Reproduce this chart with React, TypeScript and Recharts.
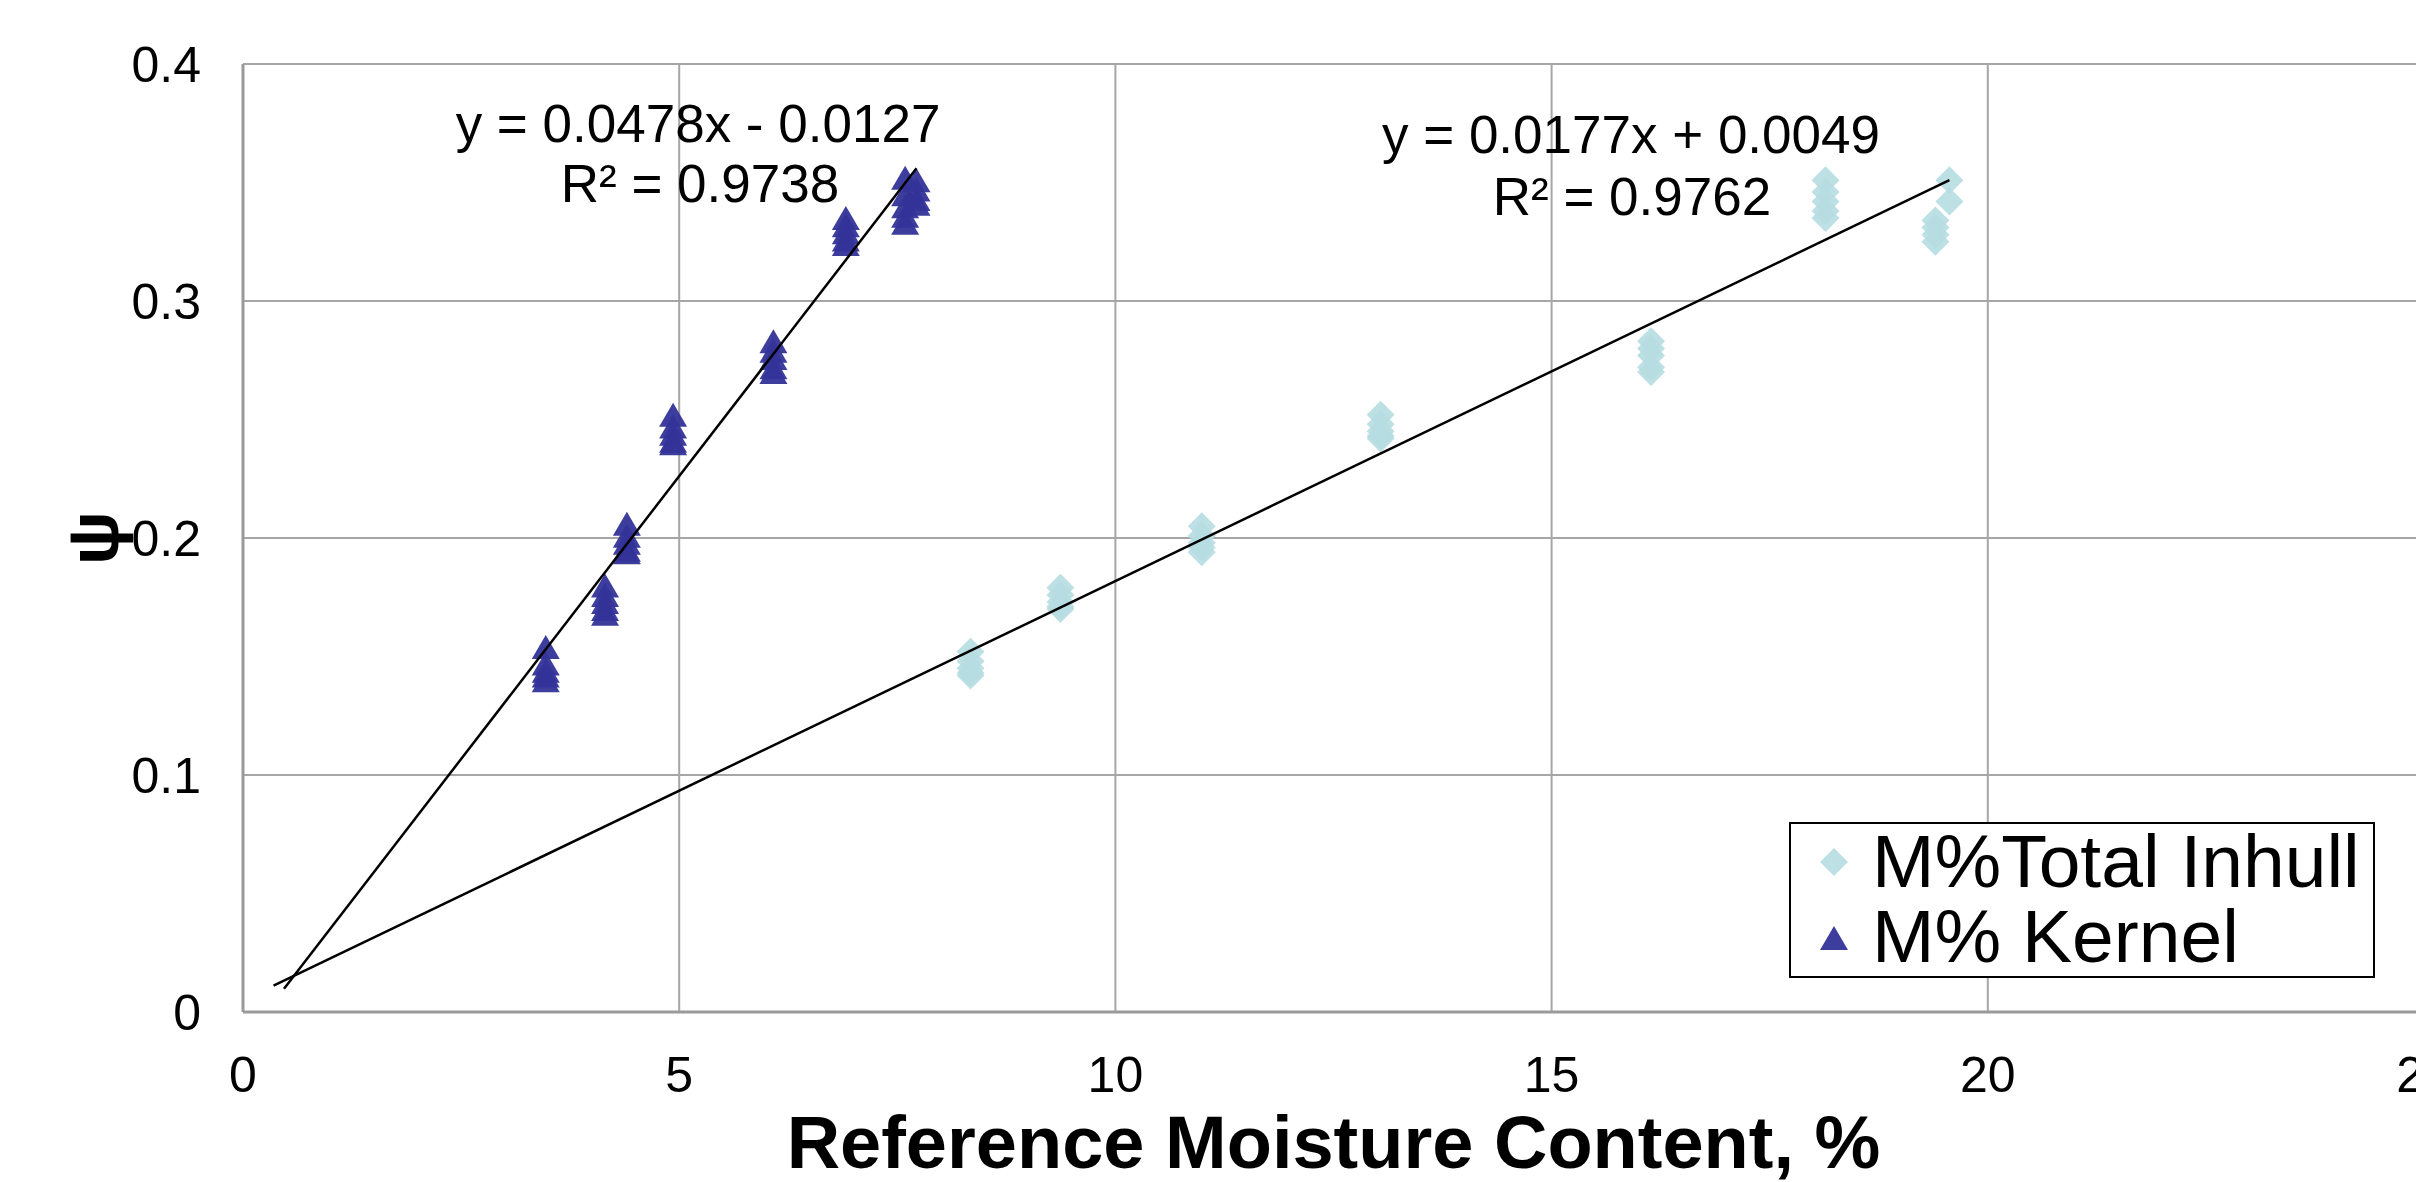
import React from "react";
import { ScatterChart, Scatter, XAxis, YAxis, CartesianGrid, Label } from "recharts";

// M% Kernel (triangles)
const kernelPoints = [
  { x: 3.47, y: 0.154 }, { x: 3.47, y: 0.147 }, { x: 3.47, y: 0.144 }, { x: 3.47, y: 0.142 }, { x: 3.47, y: 0.140 },
  { x: 4.15, y: 0.180 }, { x: 4.15, y: 0.176 }, { x: 4.15, y: 0.173 }, { x: 4.15, y: 0.170 }, { x: 4.15, y: 0.168 },
  { x: 4.40, y: 0.206 }, { x: 4.40, y: 0.201 }, { x: 4.40, y: 0.198 }, { x: 4.40, y: 0.195 }, { x: 4.40, y: 0.194 },
  { x: 4.93, y: 0.252 }, { x: 4.93, y: 0.247 }, { x: 4.93, y: 0.244 }, { x: 4.93, y: 0.241 }, { x: 4.93, y: 0.240 },
  { x: 6.08, y: 0.283 }, { x: 6.08, y: 0.279 }, { x: 6.08, y: 0.276 }, { x: 6.08, y: 0.272 }, { x: 6.08, y: 0.270 },
  { x: 6.91, y: 0.335 }, { x: 6.91, y: 0.332 }, { x: 6.91, y: 0.329 }, { x: 6.91, y: 0.326 }, { x: 6.91, y: 0.324 },
  { x: 7.59, y: 0.352 }, { x: 7.59, y: 0.345 }, { x: 7.59, y: 0.340 }, { x: 7.59, y: 0.336 }, { x: 7.59, y: 0.333 },
  { x: 7.72, y: 0.351 }, { x: 7.72, y: 0.347 }, { x: 7.72, y: 0.343 }, { x: 7.72, y: 0.341 },
];

// M%Total Inhull (diamonds)
const inhullPoints = [
  { x: 8.34, y: 0.152 }, { x: 8.34, y: 0.148 }, { x: 8.34, y: 0.145 }, { x: 8.34, y: 0.143 }, { x: 8.34, y: 0.142 },
  { x: 9.37, y: 0.179 }, { x: 9.37, y: 0.176 }, { x: 9.37, y: 0.173 }, { x: 9.37, y: 0.171 }, { x: 9.37, y: 0.170 },
  { x: 10.99, y: 0.205 }, { x: 10.99, y: 0.201 }, { x: 10.99, y: 0.198 }, { x: 10.99, y: 0.196 }, { x: 10.99, y: 0.194 },
  { x: 13.04, y: 0.252 }, { x: 13.04, y: 0.248 }, { x: 13.04, y: 0.245 }, { x: 13.04, y: 0.243 }, { x: 13.04, y: 0.242 },
  { x: 16.14, y: 0.283 }, { x: 16.14, y: 0.280 }, { x: 16.14, y: 0.277 }, { x: 16.14, y: 0.272 }, { x: 16.14, y: 0.270 },
  { x: 18.14, y: 0.351 }, { x: 18.14, y: 0.346 }, { x: 18.14, y: 0.342 }, { x: 18.14, y: 0.338 }, { x: 18.14, y: 0.335 },
  { x: 19.40, y: 0.334 }, { x: 19.40, y: 0.331 }, { x: 19.40, y: 0.328 }, { x: 19.40, y: 0.325 },
  { x: 19.56, y: 0.351 }, { x: 19.56, y: 0.342 },
];

// linear trendlines, end points
const kernelTrend = [{ x: 0.47, y: 0.0098 }, { x: 7.72, y: 0.356 }];
const inhullTrend = [{ x: 0.35, y: 0.0111 }, { x: 19.56, y: 0.351 }];

const xTicks = [0, 5, 10, 15, 20, 25];
const yTicks = [0, 0.1, 0.2, 0.3, 0.4];

const kernelEq = ["y = 0.0478x - 0.0127", "R² = 0.9738"];
const inhullEq = ["y = 0.0177x + 0.0049", "R² = 0.9762"];

const KERNEL = "#333399";
const INHULL = "#b6dde1";
const FONT = "'Liberation Sans', Arial, sans-serif";

const Diamond = (p: any) => {
  const { cx, cy } = p;
  return <polygon points={`${cx},${cy - 14} ${cx + 14},${cy} ${cx},${cy + 14} ${cx - 14},${cy}`} fill={INHULL} fillOpacity={0.9} />;
};

const Triangle = (p: any) => {
  const { cx, cy } = p;
  return <polygon points={`${cx},${cy - 12} ${cx + 14},${cy + 12} ${cx - 14},${cy + 12}`} fill={KERNEL} fillOpacity={0.95} />;
};

const NoDot = () => <g />;

const legendItems = [
  { name: "M%Total Inhull", shape: Diamond },
  { name: "M% Kernel", shape: Triangle },
];

export default function App() {
  const tick = { fill: "#000", fontSize: 50, fontFamily: FONT };
  return (
    <div style={{ position: "fixed", left: 0, top: 0, width: 2416, height: 1182, overflow: "hidden", background: "#fff" }}>
      <ScatterChart width={2500} height={1182} margin={{ top: 64, right: 76, bottom: 70, left: 0 }}>
        <CartesianGrid stroke="#a6a6a6" strokeWidth={2} />
        <XAxis
          type="number" dataKey="x" domain={[0, 25]} ticks={xTicks} height={100}
          tick={tick} tickLine={false} tickSize={0} tickMargin={44}
          axisLine={{ stroke: "#9a9a9a", strokeWidth: 3 }}
        >
          <Label value="Reference Moisture Content, %" position="bottom" offset={3}
            style={{ fontSize: 74, fontWeight: "bold", fontFamily: FONT, fill: "#000" }} />
        </XAxis>
        <YAxis
          type="number" dataKey="y" domain={[0, 0.4]} ticks={yTicks} width={243}
          tick={tick} tickLine={false} tickSize={0} tickMargin={42}
          axisLine={{ stroke: "#9a9a9a", strokeWidth: 3 }}
        >
          <Label
            content={(props: any) => {
              const vb = props.viewBox || { x: 0, y: 64, height: 948 };
              const cx = vb.x + 93;
              const cy = vb.y + vb.height / 2;
              return (
                <text x={cx} y={cy} transform={`rotate(-90 ${cx} ${cy})`} textAnchor="middle" dominantBaseline="central"
                  style={{ fontSize: 72, fontWeight: "bold", fontFamily: FONT }} fill="#000">ψ</text>
              );
            }}
          />
        </YAxis>
        <Scatter name="M%Total Inhull" data={inhullPoints} shape={Diamond} isAnimationActive={false} />
        <Scatter name="M% Kernel" data={kernelPoints} shape={Triangle} isAnimationActive={false} />
        <Scatter data={kernelTrend} line={{ stroke: "#000", strokeWidth: 2.5 }} shape={NoDot} isAnimationActive={false} />
        <Scatter data={inhullTrend} line={{ stroke: "#000", strokeWidth: 2.5 }} shape={NoDot} isAnimationActive={false} />
      </ScatterChart>

      <svg width={2416} height={1182} style={{ position: "absolute", left: 0, top: 0, pointerEvents: "none" }}>
        <g style={{ fontFamily: FONT, fontSize: 53 }} fill="#000" textAnchor="middle">
          <text x={698} y={142}>{kernelEq[0]}</text>
          <text x={700} y={202}>{kernelEq[1]}</text>
          <text x={1631} y={153}>{inhullEq[0]}</text>
          <text x={1632} y={215}>{inhullEq[1]}</text>
        </g>
        <rect x={1790} y={823} width={584} height={154} fill="#fff" stroke="#000" strokeWidth={2} />
        {legendItems.map((it, i) => {
          const Shape = it.shape;
          return (
            <g key={it.name}>
              <Shape cx={1834} cy={862 + i * 76} />
              <text x={1872} y={887 + i * 75} style={{ fontFamily: FONT, fontSize: 75 }} fill="#000">{it.name}</text>
            </g>
          );
        })}
      </svg>
    </div>
  );
}
